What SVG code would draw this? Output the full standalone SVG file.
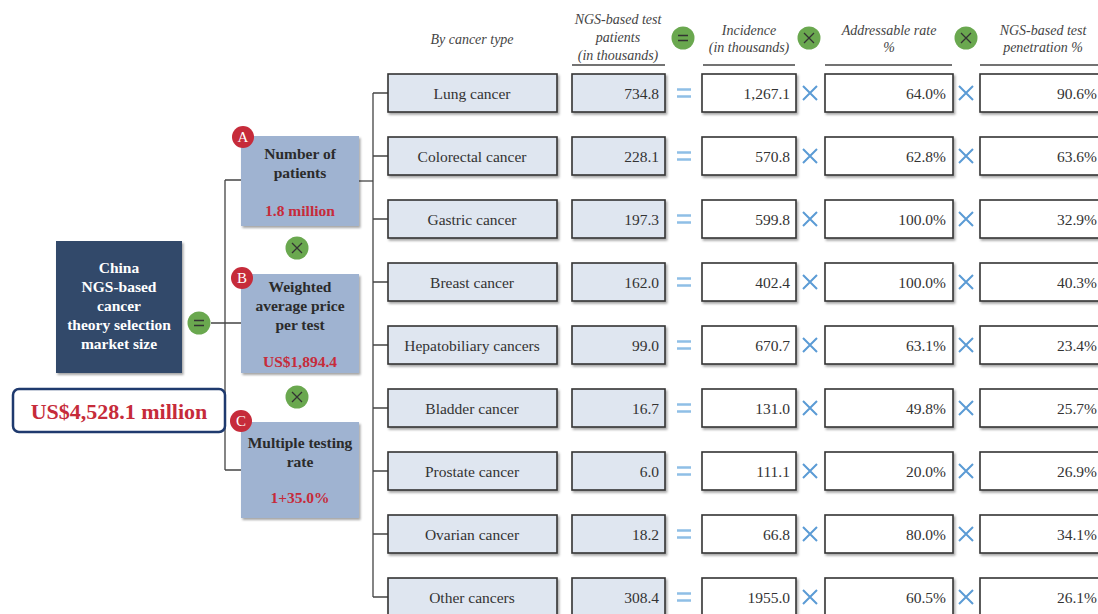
<svg xmlns="http://www.w3.org/2000/svg" width="1098" height="614" viewBox="0 0 1098 614">
<defs>
<filter id="sh" x="-10%" y="-10%" width="130%" height="140%"><feDropShadow dx="1.5" dy="2" stdDeviation="1.2" flood-color="#000" flood-opacity="0.35"/></filter>
<g id="xs"><path d="M-7,-7L7,7M7,-7L-7,7" stroke="#5b9bd5" stroke-width="2" fill="none"/></g>
<g id="eq"><path d="M-7,-3.5H7M-7,3.5H7" stroke="#8fbfe6" stroke-width="2.4" fill="none"/></g>
<g id="gx"><circle r="11.5" fill="#6aa84f"/><path d="M-5,-5L5,5M5,-5L-5,5" stroke="#333" stroke-width="1.3"/></g>
<g id="geq"><circle r="11.5" fill="#6aa84f"/><path d="M-5,-2.5H5M-5,2.5H5" stroke="#333" stroke-width="1.3"/></g>
</defs>
<style>
text{font-family:"Liberation Serif","Times New Roman",serif;fill:#333}
.hd{font-style:italic;font-size:14px;fill:#444;text-anchor:middle}
.lab{font-size:15.5px;text-anchor:middle}
.val{font-size:15.5px;text-anchor:end}
.cat{fill:#dfe6f0;stroke:#333;stroke-width:1.6;filter:url(#sh)}
.num{fill:#fff;stroke:#333;stroke-width:1.6;filter:url(#sh)}
.abc{fill:#9fb3d1;filter:url(#sh)}
.abct{font-weight:bold;font-size:15.5px;text-anchor:middle;fill:#2b2b2b}
.red{font-weight:bold;font-size:15.5px;text-anchor:middle;fill:#c62b3a}
.wt{font-weight:bold;font-size:15.5px;text-anchor:middle;fill:#fff}
.ln{stroke:#444;stroke-width:1.3;fill:none}
.ul{stroke:#444;stroke-width:1.5}
.badge{fill:#c62b3a}
.bt{fill:#fff;font-size:15px;text-anchor:middle}
</style>

<g id="connectors">
<path class="ln" d="M373,93V597M373,93H388M373,156H388M373,219H388M373,282H388M373,345H388M373,408H388M373,471H388M373,534H388M373,597H388"/>
<path class="ln" d="M359,181H373"/>
<path class="ln" d="M225,180V470M225,180H241M211,323H241M225,470H241"/>
</g>

<g id="headers">
<text class="hd" x="472" y="44">By cancer type</text>
<text class="hd" x="618" y="24">NGS-based test</text>
<text class="hd" x="618" y="42">patients</text>
<text class="hd" x="618" y="60">(in thousands)</text>
<line class="ul" x1="572" y1="65" x2="665" y2="65"/>
<use href="#geq" x="683" y="38"/>
<text class="hd" x="749" y="35">Incidence</text>
<text class="hd" x="749" y="52">(in thousands)</text>
<line class="ul" x1="703" y1="65" x2="795" y2="65"/>
<use href="#gx" x="809" y="38"/>
<text class="hd" x="889" y="35">Addressable rate</text>
<text class="hd" x="889" y="52">%</text>
<line class="ul" x1="825" y1="65" x2="952" y2="65"/>
<use href="#gx" x="966" y="38"/>
<text class="hd" x="1043" y="35">NGS-based test</text>
<text class="hd" x="1043" y="52">penetration %</text>
<line class="ul" x1="980" y1="65" x2="1098" y2="65"/>
</g>

<g id="main">
<rect x="56" y="241" width="126" height="132" fill="#33496a" filter="url(#sh)"/>
<text class="wt" x="119" y="273">China</text>
<text class="wt" x="119" y="292">NGS-based</text>
<text class="wt" x="119" y="311">cancer</text>
<text class="wt" x="119" y="330">theory selection</text>
<text class="wt" x="119" y="349">market size</text>
<use href="#geq" x="199" y="323"/>
</g>

<g id="total">
<rect x="13" y="389" width="212" height="43" rx="6" fill="#fff" stroke="#1f3a6e" stroke-width="2.5"/>
<text x="119" y="418.5" text-anchor="middle" font-weight="bold" font-size="22" style="fill:#c62b3a">US$4,528.1 million</text>
</g>

<g id="nodeA">
<rect class="abc" x="241" y="136" width="118" height="90"/>
<text class="abct" x="300" y="159">Number of</text>
<text class="abct" x="300" y="178">patients</text>
<text class="red" x="300" y="216">1.8 million</text>
<circle class="badge" cx="243" cy="137" r="11"/><text class="bt" x="243" y="142">A</text>
</g>
<use href="#gx" x="297" y="248"/>
<g id="nodeB">
<rect class="abc" x="241" y="274" width="118" height="99"/>
<text class="abct" x="300" y="292">Weighted</text>
<text class="abct" x="300" y="311">average price</text>
<text class="abct" x="300" y="330">per test</text>
<text class="red" x="300" y="367">US$1,894.4</text>
<circle class="badge" cx="242" cy="278" r="11"/><text class="bt" x="242" y="283">B</text>
</g>
<use href="#gx" x="297" y="397"/>
<g id="nodeC">
<rect class="abc" x="241" y="422" width="118" height="96"/>
<text class="abct" x="300" y="448">Multiple testing</text>
<text class="abct" x="300" y="467">rate</text>
<text class="red" x="300" y="503">1+35.0%</text>
<circle class="badge" cx="241" cy="421" r="11"/><text class="bt" x="241" y="426">C</text>
</g>

<g id="row1" transform="translate(0,0)">
<rect class="cat" x="388" y="74" width="169" height="38"/><text class="lab" x="472" y="98.5">Lung cancer</text>
<rect class="cat" x="572" y="74" width="93" height="38"/><text class="val" x="659" y="98.5">734.8</text>
<use href="#eq" x="684" y="93"/>
<rect class="num" x="702" y="74" width="94" height="38"/><text class="val" x="790" y="98.5">1,267.1</text>
<use href="#xs" x="810" y="93"/>
<rect class="num" x="825" y="74" width="128" height="38"/><text class="val" x="946" y="98.5">64.0%</text>
<use href="#xs" x="966" y="93"/>
<rect class="num" x="980" y="74" width="130" height="38"/><text class="val" x="1097" y="98.5">90.6%</text>
</g>
<g id="row2" transform="translate(0,63)">
<rect class="cat" x="388" y="74" width="169" height="38"/><text class="lab" x="472" y="98.5">Colorectal cancer</text>
<rect class="cat" x="572" y="74" width="93" height="38"/><text class="val" x="659" y="98.5">228.1</text>
<use href="#eq" x="684" y="93"/>
<rect class="num" x="702" y="74" width="94" height="38"/><text class="val" x="790" y="98.5">570.8</text>
<use href="#xs" x="810" y="93"/>
<rect class="num" x="825" y="74" width="128" height="38"/><text class="val" x="946" y="98.5">62.8%</text>
<use href="#xs" x="966" y="93"/>
<rect class="num" x="980" y="74" width="130" height="38"/><text class="val" x="1097" y="98.5">63.6%</text>
</g>
<g id="row3" transform="translate(0,126)">
<rect class="cat" x="388" y="74" width="169" height="38"/><text class="lab" x="472" y="98.5">Gastric cancer</text>
<rect class="cat" x="572" y="74" width="93" height="38"/><text class="val" x="659" y="98.5">197.3</text>
<use href="#eq" x="684" y="93"/>
<rect class="num" x="702" y="74" width="94" height="38"/><text class="val" x="790" y="98.5">599.8</text>
<use href="#xs" x="810" y="93"/>
<rect class="num" x="825" y="74" width="128" height="38"/><text class="val" x="946" y="98.5">100.0%</text>
<use href="#xs" x="966" y="93"/>
<rect class="num" x="980" y="74" width="130" height="38"/><text class="val" x="1097" y="98.5">32.9%</text>
</g>
<g id="row4" transform="translate(0,189)">
<rect class="cat" x="388" y="74" width="169" height="38"/><text class="lab" x="472" y="98.5">Breast cancer</text>
<rect class="cat" x="572" y="74" width="93" height="38"/><text class="val" x="659" y="98.5">162.0</text>
<use href="#eq" x="684" y="93"/>
<rect class="num" x="702" y="74" width="94" height="38"/><text class="val" x="790" y="98.5">402.4</text>
<use href="#xs" x="810" y="93"/>
<rect class="num" x="825" y="74" width="128" height="38"/><text class="val" x="946" y="98.5">100.0%</text>
<use href="#xs" x="966" y="93"/>
<rect class="num" x="980" y="74" width="130" height="38"/><text class="val" x="1097" y="98.5">40.3%</text>
</g>
<g id="row5" transform="translate(0,252)">
<rect class="cat" x="388" y="74" width="169" height="38"/><text class="lab" x="472" y="98.5">Hepatobiliary cancers</text>
<rect class="cat" x="572" y="74" width="93" height="38"/><text class="val" x="659" y="98.5">99.0</text>
<use href="#eq" x="684" y="93"/>
<rect class="num" x="702" y="74" width="94" height="38"/><text class="val" x="790" y="98.5">670.7</text>
<use href="#xs" x="810" y="93"/>
<rect class="num" x="825" y="74" width="128" height="38"/><text class="val" x="946" y="98.5">63.1%</text>
<use href="#xs" x="966" y="93"/>
<rect class="num" x="980" y="74" width="130" height="38"/><text class="val" x="1097" y="98.5">23.4%</text>
</g>
<g id="row6" transform="translate(0,315)">
<rect class="cat" x="388" y="74" width="169" height="38"/><text class="lab" x="472" y="98.5">Bladder cancer</text>
<rect class="cat" x="572" y="74" width="93" height="38"/><text class="val" x="659" y="98.5">16.7</text>
<use href="#eq" x="684" y="93"/>
<rect class="num" x="702" y="74" width="94" height="38"/><text class="val" x="790" y="98.5">131.0</text>
<use href="#xs" x="810" y="93"/>
<rect class="num" x="825" y="74" width="128" height="38"/><text class="val" x="946" y="98.5">49.8%</text>
<use href="#xs" x="966" y="93"/>
<rect class="num" x="980" y="74" width="130" height="38"/><text class="val" x="1097" y="98.5">25.7%</text>
</g>
<g id="row7" transform="translate(0,378)">
<rect class="cat" x="388" y="74" width="169" height="38"/><text class="lab" x="472" y="98.5">Prostate cancer</text>
<rect class="cat" x="572" y="74" width="93" height="38"/><text class="val" x="659" y="98.5">6.0</text>
<use href="#eq" x="684" y="93"/>
<rect class="num" x="702" y="74" width="94" height="38"/><text class="val" x="790" y="98.5">111.1</text>
<use href="#xs" x="810" y="93"/>
<rect class="num" x="825" y="74" width="128" height="38"/><text class="val" x="946" y="98.5">20.0%</text>
<use href="#xs" x="966" y="93"/>
<rect class="num" x="980" y="74" width="130" height="38"/><text class="val" x="1097" y="98.5">26.9%</text>
</g>
<g id="row8" transform="translate(0,441)">
<rect class="cat" x="388" y="74" width="169" height="38"/><text class="lab" x="472" y="98.5">Ovarian cancer</text>
<rect class="cat" x="572" y="74" width="93" height="38"/><text class="val" x="659" y="98.5">18.2</text>
<use href="#eq" x="684" y="93"/>
<rect class="num" x="702" y="74" width="94" height="38"/><text class="val" x="790" y="98.5">66.8</text>
<use href="#xs" x="810" y="93"/>
<rect class="num" x="825" y="74" width="128" height="38"/><text class="val" x="946" y="98.5">80.0%</text>
<use href="#xs" x="966" y="93"/>
<rect class="num" x="980" y="74" width="130" height="38"/><text class="val" x="1097" y="98.5">34.1%</text>
</g>
<g id="row9" transform="translate(0,504)">
<rect class="cat" x="388" y="74" width="169" height="38"/><text class="lab" x="472" y="98.5">Other cancers</text>
<rect class="cat" x="572" y="74" width="93" height="38"/><text class="val" x="659" y="98.5">308.4</text>
<use href="#eq" x="684" y="93"/>
<rect class="num" x="702" y="74" width="94" height="38"/><text class="val" x="790" y="98.5">1955.0</text>
<use href="#xs" x="810" y="93"/>
<rect class="num" x="825" y="74" width="128" height="38"/><text class="val" x="946" y="98.5">60.5%</text>
<use href="#xs" x="966" y="93"/>
<rect class="num" x="980" y="74" width="130" height="38"/><text class="val" x="1097" y="98.5">26.1%</text>
</g>
</svg>
